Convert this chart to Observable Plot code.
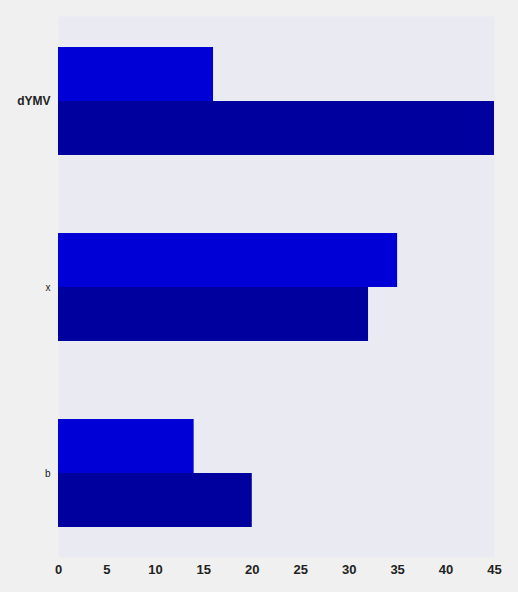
<!DOCTYPE html>
<html>
<head>
<meta charset="utf-8">
<script src="https://cdn.jsdelivr.net/npm/d3@7"></script>
<script src="https://cdn.jsdelivr.net/npm/@observablehq/plot@0.6"></script>
<style>
  html, body { margin: 0; padding: 0; background: #f0f0f0; }
  #chart { width: 518px; height: 592px; }
</style>
</head>
<body>
<div id="chart"></div>
<script>
const categories = ["dYMV", "x", "b"];
const seriesA = [16, 35, 14];
const seriesB = [45, 32, 20];
const xTicks = [0, 5, 10, 15, 20, 25, 30, 35, 40, 45];

const rowsA = categories.map((c, i) => ({category: c, value: seriesA[i]}));
const rowsB = categories.map((c, i) => ({category: c, value: seriesB[i]}));

const chart = Plot.plot({
  width: 518,
  height: 592,
  marginTop: 16,
  marginBottom: 35,
  marginLeft: 58,
  marginRight: 24,
  style: {background: "#f0f0f0", fontFamily: "'Liberation Sans', Arial, sans-serif"},
  x: {domain: [0, 45]},
  y: {domain: categories, paddingInner: 0.41935, paddingOuter: 0.16398, align: 0.5082, round: false},
  marks: [
    Plot.frame({fill: "#eaeaf2", stroke: null}),
    Plot.barX(rowsA, {x: "value", y: "category", fill: "#0000d6", insetBottom: 54}),
    Plot.barX(rowsB, {x: "value", y: "category", fill: "#00009e", insetTop: 54}),
    Plot.axisX(xTicks, {tickSize: 0, tickPadding: 7, fontSize: 13, fontWeight: "bold", fill: "#222", label: null}),
    Plot.axisY(["dYMV"], {tickSize: 0, tickPadding: 8, fontSize: 12, fontWeight: "bold", fill: "#222", label: null}),
    Plot.axisY(["x", "b"], {tickSize: 0, tickPadding: 8, fontSize: 10, fill: "#222", label: null})
  ]
});
document.getElementById("chart").appendChild(chart);
</script>
</body>
</html>
